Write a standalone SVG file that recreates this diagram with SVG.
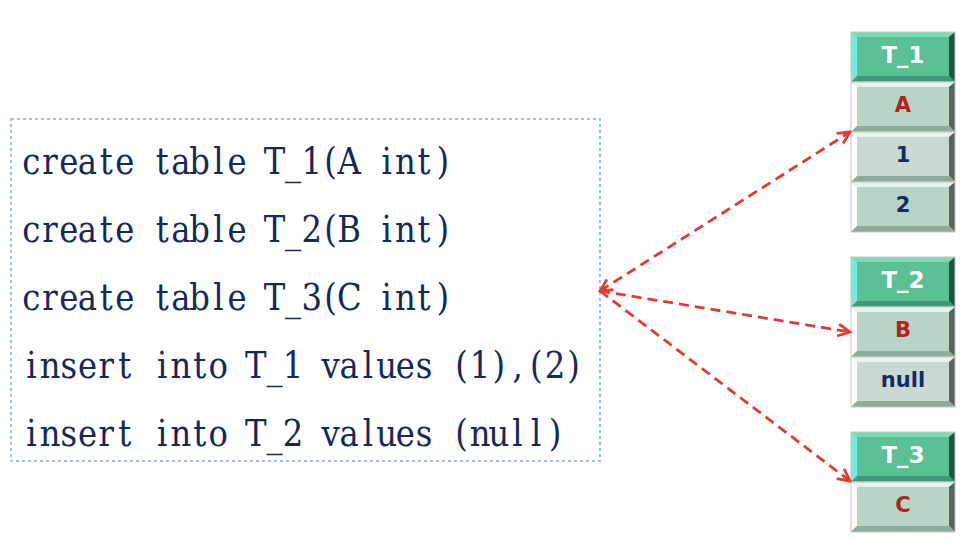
<svg xmlns="http://www.w3.org/2000/svg" width="962" height="552" viewBox="0 0 962 552">
<style>
.code{font-family:"DejaVu Serif","Liberation Serif",serif;font-size:38px;fill:#14285a;text-anchor:middle}
.frame{fill:none;stroke:#7fb0d8;stroke-width:1.5;stroke-dasharray:3 3}
.hf{fill:#5bc194}.ht{fill:#7fd9b2}.hl{fill:#72ece0}.hr{fill:#1f5442}.hb{fill:#3f9a78}
.rf{fill:#b6d5c4}.rf2{fill:#c9d8d1}.rt{fill:#e6f4ec}.rl{fill:#ffffff}.rr{fill:#566460}.rb{fill:#8fab9c}
.edge{fill:none;stroke:#c2cbc7;stroke-width:1}
.hlab{font-family:"DejaVu Sans",Verdana,sans-serif;font-weight:bold;font-size:23px;fill:#ffffff;text-anchor:middle}
.rlab{font-family:"DejaVu Sans",Verdana,sans-serif;font-weight:bold;font-size:21px;text-anchor:middle}
.red{fill:#b3221a}.blue{fill:#142a66}
.arr{fill:none;stroke:#e53a30;stroke-width:2.8;stroke-dasharray:10 6}
</style>
<defs>
<marker id="ah" viewBox="0 0 16 16" refX="14" refY="8" markerWidth="16" markerHeight="16" markerUnits="userSpaceOnUse" orient="auto-start-reverse">
<path d="M2,2 L14,8 L2,14" fill="none" stroke="#e53a30" stroke-width="2.8"/>
</marker>
<g id="hdr">
<rect x="0" y="0" width="104" height="50" class="hf"/>
<polygon points="0,0 104,0 98,5 6,5" class="ht"/>
<polygon points="0,0 6,5 6,44 0,50" class="hl"/>
<polygon points="104,0 104,50 98,44 98,5" class="hr"/>
<polygon points="0,50 104,50 98,44 6,44" class="hb"/>
<rect x="0" y="0" width="104" height="50" class="edge"/>
</g>
<g id="row">
<rect x="0" y="0" width="104" height="50" class="rf"/>
<polygon points="0,0 104,0 98,5 6,5" class="rt"/>
<polygon points="0,0 6,5 6,44 0,50" class="rl"/>
<polygon points="104,0 104,50 98,44 98,5" class="rr"/>
<polygon points="0,50 104,50 98,44 6,44" class="rb"/>
<rect x="0" y="0" width="104" height="50" class="edge"/>
</g>
<g id="row2">
<rect x="0" y="0" width="104" height="50" class="rf2"/>
<polygon points="0,0 104,0 98,5 6,5" class="rt"/>
<polygon points="0,0 6,5 6,44 0,50" class="rl"/>
<polygon points="104,0 104,50 98,44 98,5" class="rr"/>
<polygon points="0,50 104,50 98,44 6,44" class="rb"/>
<rect x="0" y="0" width="104" height="50" class="edge"/>
</g>
</defs>
<rect width="962" height="552" fill="#ffffff"/>

<g id="code">
<rect x="11" y="119" width="589" height="342" class="frame"/>
<g transform="translate(22,0) scale(0.85,1)">
<text class="code" y="174" x="11 33 55 77 99 121 143 165 187 209 231 253 275 297 319 341 363 385 407 429 451 473 495">create table T_1(A int)</text>
<text class="code" y="242" x="11 33 55 77 99 121 143 165 187 209 231 253 275 297 319 341 363 385 407 429 451 473 495">create table T_2(B int)</text>
<text class="code" y="310" x="11 33 55 77 99 121 143 165 187 209 231 253 275 297 319 341 363 385 407 429 451 473 495">create table T_3(C int)</text>
<text class="code" y="378" x="11 33 55 77 99 121 143 165 187 209 231 253 275 297 319 341 363 385 407 429 451 473 495 517 539 561 583 605 627 649">insert into T_1 values (1),(2)</text>
<text class="code" y="446" x="11 33 55 77 99 121 143 165 187 209 231 253 275 297 319 341 363 385 407 429 451 473 495 517 539 561 583 605 627">insert into T_2 values (null)</text>
</g>
</g>

<g id="table-T_1" transform="translate(851,32)">
<use href="#hdr" y="0"/>
<use href="#row" y="50"/>
<use href="#row2" y="100"/>
<use href="#row" y="150"/>
<text class="hlab" x="52" y="31">T_1</text>
<text class="rlab red" x="52" y="80">A</text>
<text class="rlab blue" x="52" y="130">1</text>
<text class="rlab blue" x="52" y="180">2</text>
</g>

<g id="table-T_2" transform="translate(851,257)">
<use href="#hdr" y="0"/>
<use href="#row" y="50"/>
<use href="#row2" y="100"/>
<text class="hlab" x="52" y="31">T_2</text>
<text class="rlab red" x="52" y="80">B</text>
<text class="rlab blue" x="52" y="130">null</text>
</g>

<g id="table-T_3" transform="translate(851,432)">
<use href="#hdr" y="0"/>
<use href="#row" y="50"/>
<text class="hlab" x="52" y="31">T_3</text>
<text class="rlab red" x="52" y="80">C</text>
</g>

<g id="connectors">
<line x1="600" y1="291" x2="850" y2="132" class="arr" marker-start="url(#ah)" marker-end="url(#ah)"/>
<line x1="600" y1="291" x2="850" y2="332" class="arr" marker-end="url(#ah)"/>
<line x1="600" y1="291" x2="850" y2="481" class="arr" marker-end="url(#ah)"/>
</g>
</svg>
